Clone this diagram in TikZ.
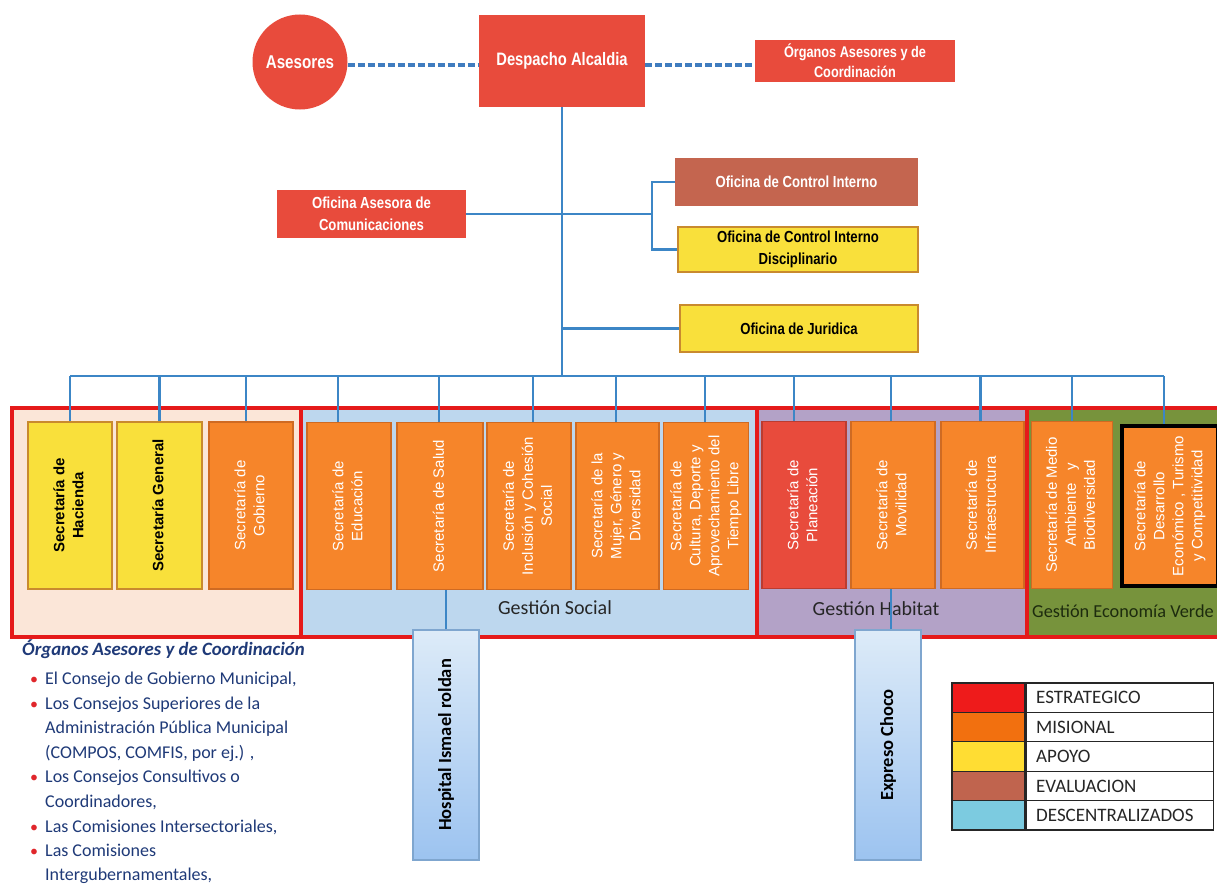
\documentclass[tikz,border=0pt]{standalone}
\usepackage{fontspec}
\setmainfont{Liberation Sans}
\newfontfamily\narrowf[FakeStretch=0.82]{Liberation Sans}
\newfontfamily\carl{Carlito}
\usetikzlibrary{calc}
\definecolor{cred}{HTML}{E84B3C}
\definecolor{corange}{HTML}{F6852A}
\definecolor{corangeD}{HTML}{CF6A22}
\definecolor{cyellow}{HTML}{F9E03B}
\definecolor{cyellowD}{HTML}{C98A2E}
\definecolor{cbrown}{HTML}{C4654F}
\definecolor{cpeach}{HTML}{FBE6D8}
\definecolor{csky}{HTML}{BDD7EE}
\definecolor{clav}{HTML}{B3A2C7}
\definecolor{cgreen}{HTML}{77933C}
\definecolor{cframe}{HTML}{E51A1A}
\definecolor{cblue}{HTML}{3C86C6}
\definecolor{cdash}{HTML}{3F7CBF}
\definecolor{cnavy}{HTML}{1F3A78}
\definecolor{cbul}{HTML}{E0262B}
\definecolor{chtop}{HTML}{DDEBF8}
\definecolor{chbot}{HTML}{9CC3F0}
\definecolor{chdraw}{HTML}{7FA6CF}
\definecolor{lred}{HTML}{EE1B1B}
\definecolor{lorange}{HTML}{F2700F}
\definecolor{lyellow}{HTML}{FFDD33}
\definecolor{lbrown}{HTML}{C0644E}
\definecolor{lcyan}{HTML}{7CCBE0}
\definecolor{cdark}{HTML}{262626}
\definecolor{cverde}{HTML}{1D2B0E}
\newcommand{\vt}[1]{\rotatebox{90}{\begin{tabular}{@{}c@{}}#1\end{tabular}}}
\tikzset{
  topbox/.style={rectangle, inner sep=0pt, text=white, align=center,
    font=\narrowf\bfseries\fontsize{16}{21.5}\selectfont},
  secbox/.style={rectangle, inner sep=0pt, line width=1.2pt, minimum height=167pt,
    font=\fontsize{15}{19}\selectfont},
  orangebox/.style={secbox, fill=corange, draw=corangeD, text=white},
  redbox/.style={secbox, fill=cred, draw=cred!80!black, text=white},
  yellowbox/.style={secbox, fill=cyellow, draw=cyellowD, text=black,
    font=\bfseries\fontsize{15}{19}\selectfont},
  link/.style={draw=cblue, line width=2.6pt},
  dashlink/.style={draw=cdash, line width=3.5pt, dash pattern=on 7pt off 3pt},
  descbox/.style={rectangle, inner sep=0pt, draw=chdraw, line width=1.2pt,
    top color=chtop, bottom color=chbot, minimum width=66pt, minimum height=230pt,
    font=\carl\bfseries\fontsize{18.5}{22}\selectfont, text=black},
  gest/.style={inner sep=0pt, font=\carl\fontsize{20}{24}\selectfont, text=cdark},
  listtxt/.style={inner sep=0pt, anchor=base west, text=cnavy,
    font=\carl\fontsize{18}{22}\selectfont},
  bul/.style={inner sep=0pt, anchor=base west, text=cbul,
    font=\carl\fontsize{16}{20}\selectfont},
  legc/.style={rectangle, inner sep=0pt, draw=cdark, line width=1.2pt,
    minimum width=73pt, minimum height=29.4pt},
  legt/.style={rectangle, inner xsep=10pt, inner ysep=0pt, draw=cdark, line width=1.2pt,
    text width=167pt, align=left, minimum height=29.4pt, text=cdark,
    font=\carl\fontsize{19}{22}\selectfont},
}
\begin{document}
\begin{tikzpicture}[x=1pt,y=-1pt]
\useasboundingbox (0,0) rectangle (1217,891);
\clip (0,0) rectangle (1217,891);
\fill[white] (0,0) rectangle (1217,891);

% ---------- top level ----------
\node[circle, fill=cred, inner sep=0pt, minimum size=95pt, text=white,
  font=\narrowf\bfseries\fontsize{18.5}{21}\selectfont] (ases) at (300,62) {Asesores};
\node[topbox, fill=cred, minimum width=166pt, minimum height=92pt,
  font=\narrowf\bfseries\fontsize{18}{21}\selectfont] (desp) at (562,61) {Despacho Alcaldia};
\node[topbox, fill=cred, minimum width=200pt, minimum height=42pt,
  font=\narrowf\bfseries\fontsize{15.5}{20}\selectfont] (org) at (855,61)
  {Órganos Asesores y de\\Coordinación};
\draw[dashlink] ([yshift=-3pt]ases.east) -- ([yshift=-3pt]ases.east -| desp.west);
\draw[dashlink] ([yshift=-3pt]desp.east |- ases.east) -- ([yshift=-3pt]org.west |- ases.east);

% ---------- offices ----------
\node[topbox, fill=cred, minimum width=189pt, minimum height=48pt] (com) at (371.5,214)
  {Oficina Asesora de\\Comunicaciones};
\node[topbox, fill=cbrown, minimum width=243pt, minimum height=48pt] (ci) at (796.5,182)
  {Oficina de Control Interno};
\node[topbox, fill=cyellow, draw=cyellowD, line width=2pt, text=black,
  minimum width=240pt, minimum height=45pt] (cid) at (798,249.5)
  {Oficina de Control Interno\\Disciplinario};
\node[topbox, fill=cyellow, draw=cyellowD, line width=2pt, text=black,
  minimum width=238pt, minimum height=47pt] (jur) at (799,328.5)
  {Oficina de Juridica};

\coordinate (bus) at (562,376);
\coordinate (br) at (652,214);
\draw[link] (desp.south) -- (bus);
\draw[link] (com.east) -- (br);
\draw[link] (ci.west) -| (br);
\draw[link] (cid.west) -| (br);
\draw[link] (jur.west) -- (jur.west -| desp.south);

% ---------- group backgrounds ----------
\fill[cpeach] (12,408) rectangle (301,637);
\fill[csky] (301,408) rectangle (757,637);
\fill[clav] (757,408) rectangle (1027,637);
\fill[cgreen] (1027,408) rectangle (1230,637);
\draw[cframe, line width=4pt] (12,408) rectangle (1230,637);
\draw[cframe, line width=4pt] (301,408) -- (301,637);
\draw[cframe, line width=4pt] (757,408) -- (757,637);
\draw[cframe, line width=4pt] (1027,408) -- (1027,637);

% ---------- secretariats ----------
\node[yellowbox, minimum width=84pt] (s1) at (70,505.5) {\vt{Secretaría de\\Hacienda}};
\node[yellowbox, minimum width=85pt] (s2) at (159.5,505.5) {\vt{Secretaría General}};
\node[orangebox, minimum width=84pt] (s3) at (251,505.5) {\vt{Secretaría de\\Gobierno}};
\node[orangebox, minimum width=84pt] (s4) at (349,506) {\vt{Secretaría de\\Educación}};
\node[orangebox, minimum width=86pt] (s5) at (440,506) {\vt{Secretaría de Salud}};
\node[orangebox, minimum width=84pt] (s6) at (529,506) {\vt{Secretaría de\\Inclusión y Cohesión\\Social}};
\node[orangebox, minimum width=83pt] (s7) at (617.5,506) {\vt{Secretaría de la\\Mujer, Género y\\Diversidad}};
\node[orangebox, minimum width=85pt] (s8) at (706,506) {\vt{Secretaría de\\Cultura, Deporte y\\Aprovechamiento del\\Tiempo Libre}};
\node[redbox, minimum width=84pt] (s9) at (804,505) {\vt{Secretaría de\\Planeación}};
\node[orangebox, minimum width=84pt] (s10) at (893,505) {\vt{Secretaría de\\Movilidad}};
\node[orangebox, minimum width=83pt] (s11) at (982.5,505) {\vt{Secretaría de\\Infraestructura}};
\node[orangebox, minimum width=81pt] (s12) at (1072,505) {\vt{Secretaría de Medio\\Ambiente \ \ y\\Biodiversidad}};
\node[orangebox, draw=black, line width=4pt, minimum width=96pt, minimum height=160pt] (s13) at (1170,506)
  {\vt{Secretaría de\\Desarrollo\\Económico , Turismo\\y Competitividad}};

% ---------- bus ----------
\draw[link] (s1.north |- bus) -- ([xshift=-6pt]s13.north |- bus);
\draw[link] (s1.north) -- (s1.north |- bus);
\draw[link] (s2.north) -- (s2.north |- bus);
\draw[link] ([xshift=-5pt]s3.north) -- ([xshift=-5pt]s3.north |- bus);
\draw[link] ([xshift=-11pt]s4.north) -- ([xshift=-11pt]s4.north |- bus);
\draw[link] ([xshift=-1pt]s5.north) -- ([xshift=-1pt]s5.north |- bus);
\draw[link] ([xshift=4pt]s6.north) -- ([xshift=4pt]s6.north |- bus);
\draw[link] ([xshift=-1.5pt]s7.north) -- ([xshift=-1.5pt]s7.north |- bus);
\draw[link] ([xshift=-1pt]s8.north) -- ([xshift=-1pt]s8.north |- bus);
\draw[link] ([xshift=-10pt]s9.north) -- ([xshift=-10pt]s9.north |- bus);
\draw[link] ([xshift=-2pt]s10.north) -- ([xshift=-2pt]s10.north |- bus);
\draw[link] ([xshift=-2pt]s11.north) -- ([xshift=-2pt]s11.north |- bus);
\draw[link] (s12.north) -- (s12.north |- bus);
\draw[link] ([xshift=-6pt]s13.north) -- ([xshift=-6pt]s13.north |- bus);

% ---------- group labels ----------
\node[gest] (gs) at (555,608) {Gestión Social};
\node[gest] (gh) at (876,609) {Gestión Habitat};
\node[gest, anchor=west, text=cverde, font=\carl\fontsize{18.3}{22}\selectfont] (gv) at (1032,611) {Gestión Economía Verde};

% ---------- decentralized ----------
\node[descbox] (hosp) at (446,745) {\rotatebox{90}{Hospital Ismael roldan}};
\node[descbox] (exp) at (888,745) {\rotatebox{90}{Expreso Choco}};
\draw[link, line width=2.4pt] (hosp.north) -- (hosp.north |- s5.south);
\draw[link, line width=2.4pt] ([xshift=3pt]exp.north) -- ([xshift=3pt]exp.north |- s10.south);

% ---------- list ----------
\node[listtxt, font=\carl\bfseries\itshape\fontsize{18.8}{22}\selectfont] (lh) at (22,655) {Órganos Asesores y de Coordinación};
\node[bul] (b1) at (30,684) {\textbullet};
\node[listtxt] (l1) at (45,684) {El Consejo de Gobierno Municipal,};
\node[bul] (b2) at (30,709) {\textbullet};
\node[listtxt] (l2) at (45,709) {Los Consejos Superiores de la};
\node[listtxt] (l3) at (45,733) {Administración Pública Municipal};
\node[listtxt] (l4) at (45,758) {(COMPOS, COMFIS, por ej.) ,};
\node[bul] (b3) at (30,782) {\textbullet};
\node[listtxt] (l5) at (45,782) {Los Consejos Consultivos o};
\node[listtxt] (l6) at (45,807) {Coordinadores,};
\node[bul] (b4) at (30,832) {\textbullet};
\node[listtxt] (l7) at (45,832) {Las Comisiones Intersectoriales,};
\node[bul] (b5) at (30,856) {\textbullet};
\node[listtxt] (l8) at (45,856) {Las Comisiones};
\node[listtxt] (l9) at (45,880) {Intergubernamentales,};

% ---------- legend ----------
\node[legc, fill=lred] (lc1) at (988.5,697.7) {};
\node[legc, fill=lorange] (lc2) at (988.5,727.1) {};
\node[legc, fill=lyellow] (lc3) at (988.5,756.5) {};
\node[legc, fill=lbrown] (lc4) at (988.5,785.9) {};
\node[legc, fill=lcyan] (lc5) at (988.5,815.3) {};
\node[legt, anchor=west] (lt1) at (lc1.east) {ESTRATEGICO};
\node[legt, anchor=west] (lt2) at (lc2.east) {MISIONAL};
\node[legt, anchor=west] (lt3) at (lc3.east) {APOYO};
\node[legt, anchor=west] (lt4) at (lc4.east) {EVALUACION};
\node[legt, anchor=west] (lt5) at (lc5.east) {DESCENTRALIZADOS};
\end{tikzpicture}
\end{document}
